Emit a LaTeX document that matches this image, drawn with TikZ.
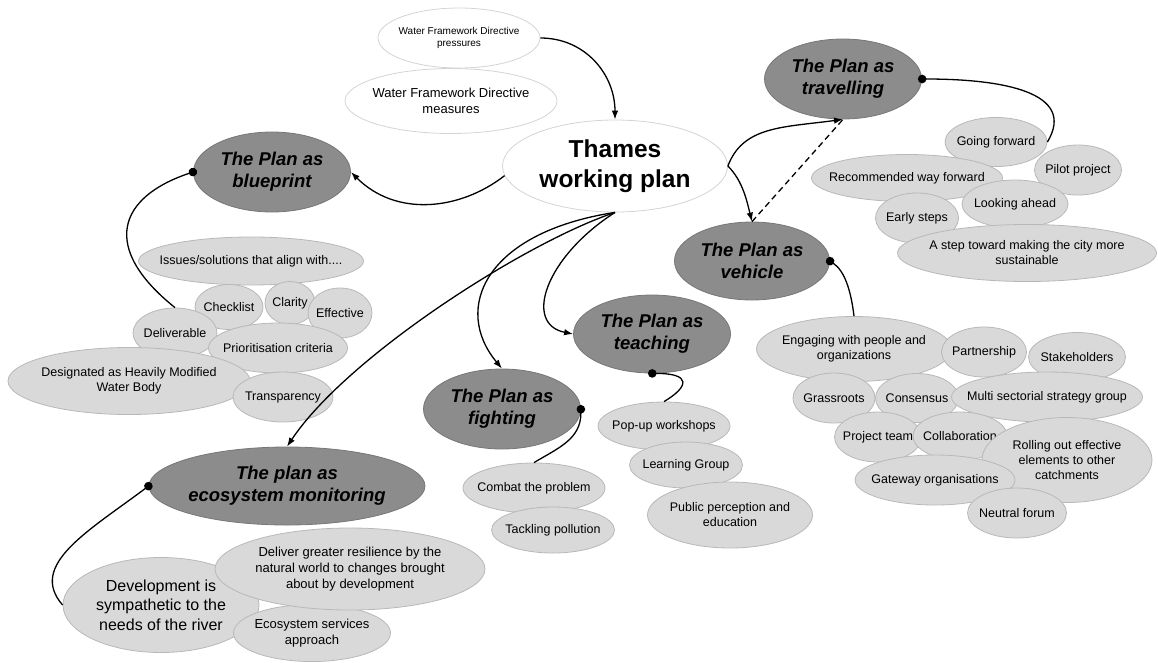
\documentclass[tikz,border=0pt]{standalone}
\usepackage{fontspec}
\setmainfont{Liberation Sans}
\usetikzlibrary{shapes.geometric,arrows.meta}

\definecolor{plangray}{gray}{0.55}
\definecolor{ideagray}{gray}{0.85}
\definecolor{rimgray}{gray}{0.72}

\tikzset{
	every label/.style={align=center, inner sep=0pt, font=\fontsize{12.5}{15}\selectfont},
	wfd/.style 2 args={ellipse, draw=rimgray!60, fill=white, line width=0.8pt, minimum width=#1pt, minimum height=#2pt, inner sep=0pt},
	plan/.style 2 args={ellipse, draw=plangray!85!black, fill=plangray, line width=0.8pt, minimum width=#1pt, minimum height=#2pt, inner sep=0pt},
	idea/.style 2 args={ellipse, draw=rimgray, fill=ideagray, line width=0.8pt, minimum width=#1pt, minimum height=#2pt, inner sep=0pt},
	plantext/.style={font=\fontsize{18.5}{22}\selectfont\bfseries\itshape},
	link/.style={-{Latex[length=9pt,width=6.5pt]}, line width=1.3pt},
	tie/.style={{Circle[length=8.5pt]}-, line width=1.3pt, shorten <=-4pt},
}

\begin{document}
\begin{tikzpicture}[x=1pt,y=-1pt]
	\useasboundingbox (0,0) rectangle (1158,662);
	\node[wfd={162}{60}, label={[font=\fontsize{10}{12}\selectfont]center:Water Framework Directive\\pressures}] (pressures) at (459,38) {};
	\node[wfd={212}{65}, label={[font=\fontsize{13}{15.5}\selectfont]center:Water Framework Directive\\measures}] (measures) at (451,101) {};
	\node[wfd={225}{92}, label={[font=\fontsize{24.5}{30}\selectfont\bfseries]center:Thames\\working plan}] (thames) at (615,166) {};

	\node[plan={157}{80}, label={[plantext]center:The Plan as\\blueprint}] (blueprint) at (272,172) {};
	\node[plan={157}{80}, label={[plantext]center:The Plan as\\travelling}] (travelling) at (843,79) {};
	\node[plan={155}{78}, label={[plantext]center:The Plan as\\vehicle}] (vehicle) at (752,261) {};
	\node[plan={157}{78}, label={[plantext]center:The Plan as\\teaching}] (teaching) at (652,334) {};
	\node[plan={157}{80}, label={[plantext]center:The Plan as\\fighting}] (fighting) at (502,409) {};
	\node[plan={276}{78}, label={[plantext]center:The plan as\\ecosystem monitoring}] (ecosystem) at (287,486) {};

	\node[idea={225}{48}, label={center:Issues/solutions that align with....}] (issues) at (251,261) {};
	\node[idea={68}{45}, label={center:Checklist}] (checklist) at (229,307) {};
	\node[idea={50}{43}, label={center:Clarity}] (clarity) at (290,303) {};
	\node[idea={64}{50}, label={center:Effective}] (effective) at (340,313) {};
	\node[idea={84}{50}, label={center:Deliverable}] (deliverable) at (175,333) {};
	\node[idea={139}{50}, label={center:Prioritisation criteria}] (criteria) at (278,348) {};
	\node[idea={242}{67}, label={center:Designated as Heavily Modified\\Water Body}] (designated) at (129,381) {};
	\node[idea={100}{50}, label={center:Transparency}] (transparency) at (283,397) {};

	\node[idea={102}{49}, label={center:Going forward}] (goingfwd) at (996,142) {};
	\node[idea={87}{50}, label={center:Pilot project}] (pilot) at (1078,170) {};
	\node[idea={191}{47}, label={center:Recommended way forward}] (wayfwd) at (907,178) {};
	\node[idea={106}{48}, label={center:Looking ahead}] (ahead) at (1015,204) {};
	\node[idea={83}{50}, label={center:Early steps}] (early) at (917,218) {};
	\node[idea={259}{57}, label={center:A step toward making the city more\\sustainable}] (citystep) at (1027,253) {};

	\node[idea={195}{65}, label={center:Engaging with people and\\organizations}] (engaging) at (854,349) {};
	\node[idea={85}{50}, label={center:Partnership}] (partnership) at (984,352) {};
	\node[idea={97}{49}, label={center:Stakeholders}] (stakeholders) at (1077,357) {};
	\node[idea={82}{50}, label={center:Grassroots}] (grassroots) at (834,398) {};
	\node[idea={83}{49}, label={center:Consensus}] (consensus) at (917,398) {};
	\node[idea={191}{50}, label={center:Multi sectorial strategy group}] (sectorial) at (1047,397) {};
	\node[idea={87}{50}, label={center:Project team}] (projteam) at (878,437) {};
	\node[idea={94}{48}, label={center:Collaboration}] (collab) at (960,436) {};
	\node[idea={170}{85}, label={center:Rolling out effective\\elements to other\\catchments}] (rolling) at (1067,460) {};
	\node[idea={160}{50}, label={center:Gateway organisations}] (gateway) at (935,480) {};
	\node[idea={99}{50}, label={center:Neutral forum}] (neutral) at (1017,513) {};

	\node[idea={132}{48}, label={center:Pop-up workshops}] (popup) at (664,426) {};
	\node[idea={113}{46}, label={center:Learning Group}] (learning) at (686,465) {};
	\node[idea={165}{66}, label={center:Public perception and\\education}] (public) at (730,515) {};

	\node[idea={142}{50}, label={center:Combat the problem}] (combat) at (534,488) {};
	\node[idea={123}{46}, label={center:Tackling pollution}] (tackling) at (553,530) {};

	\node[idea={196}{95}, label={[font=\fontsize{16}{19.5}\selectfont]center:Development is\\sympathetic to the\\needs of the river}] (sympathetic) at (161,605) {};
	\node[idea={157}{57}, label={[font=\fontsize{13}{16}\selectfont]center:Ecosystem services\\approach}] (services) at (312,633) {};
	\node[idea={270}{82}, label={[font=\fontsize{13}{16}\selectfont]center:Deliver greater resilience by the\\natural world to changes brought\\about by development}] (resilience) at (350,569) {};

	\draw[link] (pressures.east) .. controls +(45,0) and +(0,-45) .. (thames.north);
	\draw[link] (thames.185) .. controls +(-45,35) and +(45,45) .. (blueprint.east);
	\draw[link] (thames.south) .. controls +(-90,30) and +(60,-90) .. (ecosystem.north);
	\draw[link] (thames.south) .. controls +(-130,20) and +(-50,-60) .. (fighting.north);
	\draw[link] (thames.south) .. controls +(-70,45) and +(-50,-10) .. (teaching.west);
	\draw[link] (thames.east) .. controls +(15,-40) and +(-60,8) .. (travelling.south);
	\draw[link] (thames.east) .. controls +(15,15) and +(-5,-20) .. (vehicle.north);
	\draw[dash pattern=on 6pt off 4pt, line width=1.3pt] (vehicle.north) -- (travelling.south);

	\draw[tie] (blueprint.west) .. controls +(-75,25) and +(-75,-60) .. (deliverable.north);
	\draw[tie] (travelling.east) .. controls +(80,0) and +(30,-50) .. (goingfwd.east);
	\draw[tie] (vehicle.east) .. controls +(15,10) and +(-3,-25) .. (engaging.north);
	\draw[tie] (teaching.south) .. controls +(40,0) and +(25,-15) .. (popup.north);
	\draw[tie] (fighting.east) .. controls +(0,30) and +(25,-15) .. (combat.north);
	\draw[tie] (ecosystem.west) .. controls +(-60,45) and +(-35,-40) .. (sympathetic.west);
\end{tikzpicture}
\end{document}
